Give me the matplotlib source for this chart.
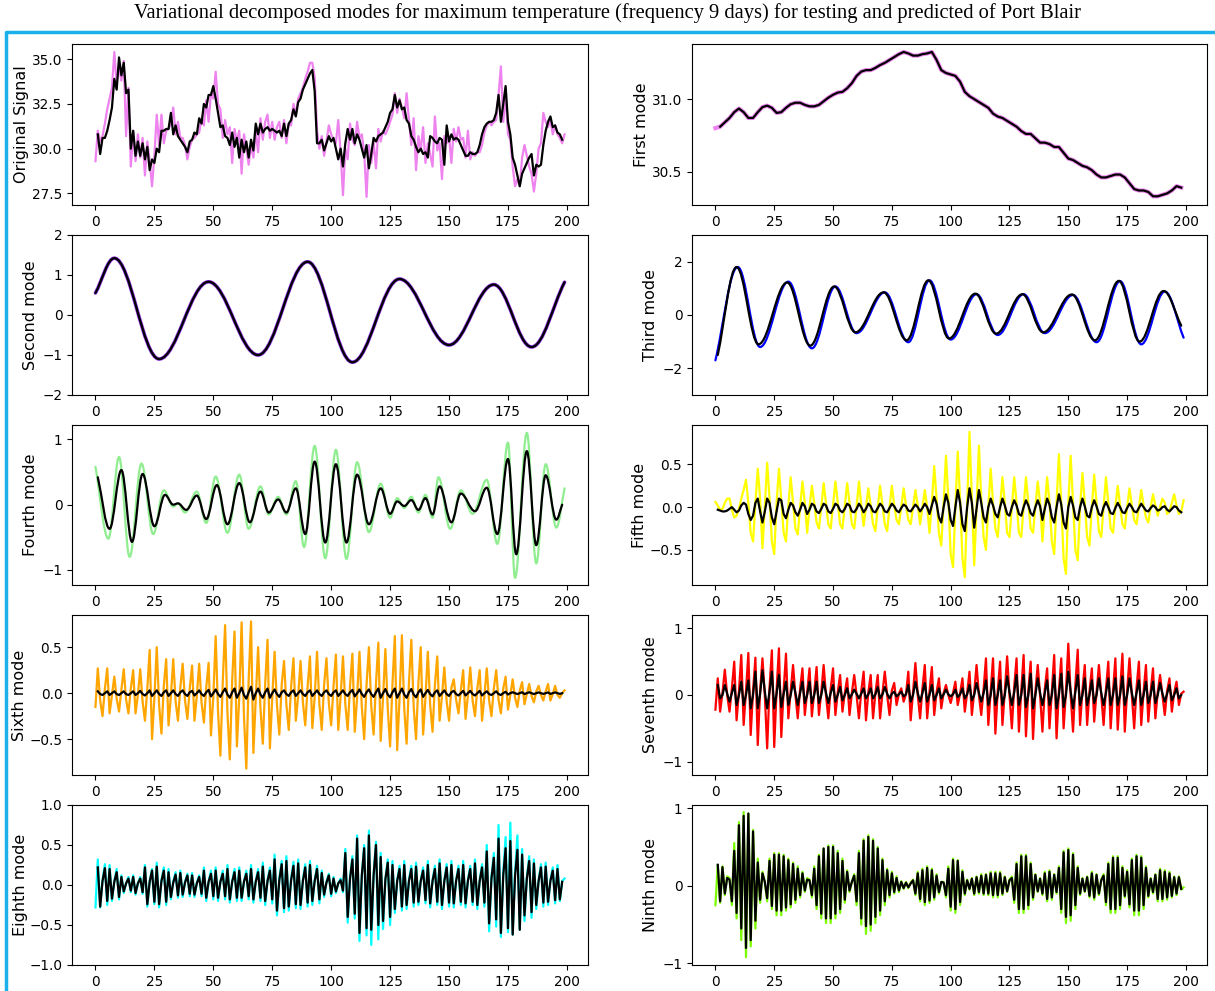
import matplotlib
matplotlib.use("Agg")
import matplotlib.pyplot as plt
import numpy as np
from matplotlib.path import Path
from matplotlib.patches import PathPatch
from matplotlib.lines import Line2D

title = ("Variational decomposed modes for maximum temperature (frequency 9 days) "
         "for testing and predicted of Port Blair")

# original signal, actual (days 0..199) and predicted (days 1..198)
orig_actual = [
    29.3, 31.0, 30.4, 30.7, 31.4, 32.2, 32.8, 33.4, 35.4, 33.6,
    34.6, 33.8, 34.9, 30.7, 33.4, 29.0, 31.0, 29.3, 30.8, 29.5,
    30.6, 28.5, 30.4, 29.3, 27.9, 29.6, 31.9, 30.2, 31.9, 30.3,
    31.0, 31.1, 31.4, 32.3, 30.8, 31.5, 30.6, 30.6, 30.2, 29.4,
    30.1, 30.5, 30.6, 30.8, 30.9, 31.7, 31.3, 32.7, 31.5, 33.1,
    32.8, 34.3, 32.5, 32.2, 30.6, 31.6, 30.8, 31.2, 29.2, 31.1,
    30.4, 31.0, 28.6, 30.8, 30.0, 29.1, 30.2, 29.5, 31.0, 29.8,
    31.7, 30.5, 31.5, 31.9, 30.6, 31.5, 30.5, 31.2, 31.5, 30.6,
    31.6, 30.3, 31.4, 31.3, 32.5, 31.9, 32.8, 33.1, 33.4, 33.9,
    34.3, 34.8, 34.8, 34.0, 31.0, 30.0, 30.7, 29.6, 30.4, 31.3,
    30.8, 30.5, 30.3, 31.6, 29.8, 27.4, 30.0, 29.4, 31.4, 30.5,
    30.2, 31.5, 30.6, 30.8, 29.8, 27.3, 30.2, 29.2, 30.4, 28.9,
    31.1, 30.4, 31.0, 30.8, 31.1, 31.5, 31.9, 33.1, 32.0, 32.8,
    32.3, 31.7, 33.1, 31.6, 30.2, 31.7, 28.8, 30.7, 29.9, 31.2,
    29.2, 30.3, 29.7, 29.0, 31.8, 29.9, 30.3, 28.3, 30.7, 30.3,
    30.7, 29.2, 31.1, 30.4, 31.2, 30.5, 30.6, 29.5, 31.0, 29.4,
    29.8, 29.6, 29.8, 29.8, 30.2, 30.9, 31.3, 31.5, 31.3, 31.5,
    31.6, 33.0, 34.6, 31.5, 33.0, 30.8, 30.5, 29.0, 27.9, 28.3,
    27.9, 29.5, 30.2, 29.6, 29.0, 28.6, 27.6, 28.6, 30.0, 30.3,
    32.0, 31.5, 31.2, 31.6, 30.8, 31.3, 30.8, 30.6, 30.3, 30.8]
orig_pred = [
    30.8, 29.7, 30.6, 30.6, 31.0, 31.6, 32.3, 33.9, 33.3, 35.1,
    34.1, 34.8, 33.1, 33.3, 30.0, 31.0, 29.6, 30.4, 29.6, 30.3,
    29.4, 30.1, 28.8, 29.4, 29.2, 30.0, 29.8, 31.0, 31.0, 31.1,
    31.1, 32.0, 30.8, 31.3, 30.7, 30.5, 30.3, 30.1, 29.8, 30.4,
    30.5, 30.9, 30.8, 31.7, 31.4, 32.5, 32.3, 33.0, 33.0, 33.5,
    32.8, 32.0, 31.2, 31.3, 30.7, 30.6, 30.2, 30.9, 30.1, 30.6,
    29.5, 30.5, 29.8, 30.4, 29.5, 30.5, 29.9, 31.4, 30.8, 31.4,
    30.9, 31.1, 31.2, 31.0, 31.1, 31.0, 30.9, 31.0, 30.7, 31.4,
    30.7, 31.4, 31.6, 32.2, 31.8, 32.6, 32.8, 33.3, 33.6, 33.9,
    34.2, 34.4, 33.2, 30.3, 30.3, 30.5, 29.9, 30.3, 30.7, 30.4,
    30.6, 30.0, 29.4, 30.0, 29.0, 30.3, 31.1, 30.5, 31.1, 30.3,
    30.8, 30.5, 30.0, 29.5, 30.2, 28.9, 29.7, 30.6, 30.4, 30.7,
    30.8, 30.9, 31.2, 31.5, 32.0, 32.2, 33.0, 32.3, 32.7, 32.2,
    32.3, 31.6, 31.4, 30.7, 30.5, 30.1, 29.8, 30.0, 29.7, 29.8,
    29.5, 30.7, 30.6, 30.4, 30.3, 30.6, 30.5, 29.1, 31.3, 30.4,
    30.8, 30.5, 30.6, 30.5, 30.2, 29.9, 29.6, 29.6, 29.8, 29.7,
    29.7, 29.8, 30.2, 30.8, 31.2, 31.4, 31.5, 31.5, 31.6, 32.0,
    33.0, 31.5, 32.5, 33.5, 31.5, 30.8, 29.5, 29.1, 28.5, 27.9,
    28.6, 28.9, 29.2, 29.5, 29.7, 28.5, 29.1, 29.0, 29.1, 30.2,
    31.0, 31.5, 31.8, 31.2, 31.3, 30.9, 30.8, 30.5]

# first mode (trend), read every second day
first_days = list(range(0, 200, 2))
first_mode = [
    30.80, 30.81, 30.84, 30.87, 30.91, 30.935, 30.91, 30.87, 30.87, 30.91,
    30.945, 30.955, 30.94, 30.905, 30.91, 30.94, 30.965, 30.975, 30.975, 30.96,
    30.95, 30.95, 30.96, 30.985, 31.01, 31.03, 31.045, 31.05, 31.075, 31.11,
    31.16, 31.19, 31.20, 31.20, 31.215, 31.235, 31.25, 31.27, 31.29, 31.31,
    31.325, 31.315, 31.30, 31.30, 31.31, 31.315, 31.325, 31.27, 31.20, 31.18,
    31.17, 31.16, 31.12, 31.05, 31.02, 31.00, 30.98, 30.96, 30.94, 30.90,
    30.88, 30.87, 30.85, 30.83, 30.81, 30.78, 30.76, 30.76, 30.73, 30.70,
    30.70, 30.69, 30.67, 30.67, 30.63, 30.59, 30.58, 30.56, 30.54, 30.53,
    30.51, 30.48, 30.46, 30.46, 30.47, 30.48, 30.48, 30.46, 30.42, 30.38,
    30.37, 30.37, 30.36, 30.33, 30.33, 30.34, 30.35, 30.37, 30.40, 30.39]

# second mode: turning points (day, value)
second_x = [0, 8, 27, 48, 69, 90, 109, 129, 150, 169, 185, 199]
second_y = [0.55, 1.42, -1.10, 0.83, -1.00, 1.33, -1.18, 0.90, -0.75, 0.76, -0.80, 0.82]

# third mode: turning points, actual and predicted
third_x = [0, 9.5, 19, 31, 41, 51, 60, 72, 82, 91, 100, 111, 120, 131, 140,
           152, 162, 172, 181, 191, 199]
third_y = [-1.70, 1.80, -1.20, 1.25, -1.25, 1.07, -0.68, 0.85, -1.02, 1.30, -0.92,
           0.78, -0.75, 0.78, -0.68, 0.75, -1.02, 1.27, -1.10, 0.88, -0.85]
third_px = [1, 9, 18.3, 30.5, 40.3, 50.5, 59.5, 71.5, 81.3, 90.5, 99.3, 110.5,
            119.3, 130.5, 139.3, 151.5, 161.3, 171.5, 180.3, 190.5, 198]
third_py = [-1.50, 1.80, -1.10, 1.22, -1.15, 1.07, -0.65, 0.85, -0.95, 1.30, -0.88,
            0.80, -0.70, 0.78, -0.65, 0.77, -0.95, 1.28, -1.00, 0.90, -0.40]

# fourth mode: turning points, actual and predicted
fourth_x = [0, 5.5, 10, 14.5, 19.5, 24.5, 29, 33, 35, 38, 43, 47, 51, 56, 61, 65,
            70, 73.5, 77.5, 81, 85, 88.5, 93, 97.5, 102, 106.5, 111, 116, 121, 125,
            128, 131, 134, 137, 140, 143, 145.5, 150.5, 155, 160, 166, 170.5, 175,
            178, 183, 187, 191, 195.5, 199]
fourth_y = [0.58, -0.52, 0.73, -0.80, 0.63, -0.45, 0.22, -0.03, 0.02, -0.12, 0.20,
            -0.28, 0.43, -0.43, 0.46, -0.37, 0.28, -0.15, 0.12, -0.15, 0.36, -0.65,
            0.90, -0.82, 0.84, -0.83, 0.65, -0.42, 0.32, -0.20, 0.10, -0.05, 0.12,
            -0.12, 0.15, -0.20, 0.42, -0.37, 0.22, -0.14, 0.38, -0.60, 0.95, -1.12,
            1.10, -0.90, 0.62, -0.35, 0.25]
fourth_px = [1, 6, 11, 15.5, 20, 25, 29.5, 33, 35, 38.5, 43, 47, 51.5, 56, 61,
             65.5, 70, 73.5, 77.5, 81, 85, 89, 93, 97.5, 102, 106.5, 111, 116, 121,
             125, 128, 131, 134, 137, 140, 143, 146, 151, 155, 161, 166, 170.5, 175,
             178.5, 183, 187, 191, 195.5, 198]
fourth_py = [0.42, -0.37, 0.53, -0.57, 0.47, -0.33, 0.15, 0.00, 0.02, -0.08, 0.14,
             -0.22, 0.30, -0.30, 0.33, -0.27, 0.20, -0.12, 0.08, -0.12, 0.25, -0.45,
             0.66, -0.58, 0.62, -0.58, 0.46, -0.30, 0.25, -0.14, 0.05, -0.02, 0.07,
             -0.08, 0.10, -0.15, 0.28, -0.27, 0.17, -0.10, 0.26, -0.45, 0.70, -0.76,
             0.82, -0.62, 0.45, -0.23, 0.00]

fifth_actual = [
    0.06, 0.02, -0.03, -0.02, 0.05, 0.10, 0.10, -0.03, -0.12, -0.10,
    -0.02, 0.10, 0.20, 0.32, 0.05, -0.30, -0.40, 0.05, 0.45, 0.10,
    -0.48, 0.00, 0.52, 0.10, -0.40, -0.55, 0.05, 0.45, 0.08, -0.30,
    -0.40, 0.02, 0.35, 0.05, -0.25, -0.32, 0.00, 0.30, 0.05, -0.30,
    0.00, 0.25, 0.05, -0.18, -0.25, 0.00, 0.28, 0.05, -0.20, -0.25,
    0.02, 0.30, 0.05, -0.20, -0.25, 0.02, 0.28, 0.05, -0.20, -0.25,
    0.00, 0.30, 0.02, -0.22, 0.00, 0.22, 0.02, -0.20, -0.28, 0.00,
    0.25, 0.03, -0.20, -0.28, 0.00, 0.25, 0.02, -0.15, -0.20, 0.00,
    0.22, 0.02, -0.15, -0.20, 0.00, 0.20, 0.02, -0.20, 0.00, 0.20,
    0.00, -0.30, 0.05, 0.48, 0.10, -0.30, -0.45, 0.05, 0.60, 0.10,
    -0.55, -0.70, 0.00, 0.65, 0.10, -0.60, -0.82, 0.05, 0.88, 0.10,
    -0.68, 0.00, 0.72, 0.10, -0.35, -0.50, 0.00, 0.45, 0.05, -0.25,
    -0.35, 0.00, 0.35, 0.05, -0.30, -0.35, 0.00, 0.35, 0.05, -0.30,
    -0.35, 0.00, 0.35, 0.05, -0.25, -0.30, 0.00, 0.30, 0.05, -0.40,
    0.00, 0.35, 0.05, -0.40, -0.55, 0.05, 0.62, 0.05, -0.60, -0.78,
    0.05, 0.60, 0.05, -0.50, -0.62, 0.00, 0.40, 0.05, -0.35, -0.45,
    0.00, 0.38, 0.05, -0.28, -0.35, 0.00, 0.35, 0.05, -0.25, -0.30,
    0.00, 0.25, 0.02, -0.20, -0.25, 0.00, 0.22, 0.02, -0.15, -0.20,
    0.00, 0.20, 0.02, -0.12, -0.18, 0.00, 0.15, 0.02, -0.10, 0.00,
    0.10, 0.05, -0.08, -0.05, 0.05, 0.15, 0.02, -0.08, -0.05, 0.08]
fifth_pred = [
    -0.03, -0.04, -0.05, -0.05, -0.04, -0.02, 0.00, -0.03, -0.06, -0.04,
    0.02, 0.05, 0.03, -0.08, -0.15, -0.10, 0.05, 0.10, -0.05, -0.18,
    -0.05, 0.10, 0.05, -0.12, -0.20, -0.05, 0.10, 0.08, -0.08, -0.13,
    -0.03, 0.05, 0.02, -0.06, -0.10, -0.03, 0.05, 0.01, -0.08, -0.03,
    0.04, 0.02, -0.05, -0.07, -0.02, 0.04, 0.02, -0.05, -0.07, -0.02,
    0.04, 0.02, -0.04, -0.06, -0.02, 0.04, 0.02, -0.05, -0.06, -0.02,
    0.04, 0.00, -0.06, -0.02, 0.04, 0.01, -0.05, -0.06, -0.01, 0.04,
    0.01, -0.05, -0.06, -0.01, 0.04, 0.01, -0.04, -0.06, -0.01, 0.03,
    0.01, -0.04, -0.05, -0.01, 0.03, 0.00, -0.05, -0.01, 0.04, 0.00,
    -0.08, 0.02, 0.12, 0.04, -0.12, -0.18, 0.00, 0.15, 0.05, -0.15,
    -0.22, 0.00, 0.20, 0.05, -0.20, -0.28, 0.00, 0.22, 0.05, -0.24,
    -0.02, 0.20, 0.05, -0.12, -0.18, 0.00, 0.10, 0.02, -0.08, -0.12,
    0.00, 0.10, 0.02, -0.08, -0.10, 0.00, 0.08, 0.02, -0.08, -0.10,
    0.00, 0.08, 0.02, -0.07, -0.10, 0.00, 0.08, 0.01, -0.15, -0.02,
    0.10, 0.03, -0.12, -0.18, 0.00, 0.15, 0.03, -0.18, -0.25, 0.00,
    0.12, 0.02, -0.12, -0.15, 0.00, 0.10, 0.01, -0.10, -0.12, 0.00,
    0.08, 0.01, -0.08, -0.10, 0.00, 0.06, 0.00, -0.07, -0.08, -0.01,
    0.05, 0.00, -0.06, -0.07, -0.01, 0.04, 0.00, -0.05, -0.06, -0.01,
    0.04, 0.00, -0.04, -0.05, -0.01, 0.02, 0.00, -0.04, -0.03, 0.00,
    0.01, -0.03, -0.05, -0.02, 0.01, 0.00, -0.04, -0.06]

sixth_actual = [
    -0.15, 0.27, -0.08, -0.25, 0.05, 0.27, -0.22, -0.02, 0.18, -0.06,
    -0.20, 0.04, 0.26, -0.07, -0.22, 0.05, 0.25, -0.22, -0.02, 0.26,
    -0.09, -0.30, 0.05, 0.47, -0.50, -0.05, 0.50, -0.13, -0.44, 0.08,
    0.37, -0.35, -0.03, 0.37, -0.09, -0.30, 0.06, 0.32, -0.08, -0.28,
    0.05, 0.30, -0.30, -0.03, 0.32, -0.10, -0.32, 0.06, 0.33, -0.46,
    -0.04, 0.62, -0.20, -0.68, 0.12, 0.74, -0.22, -0.72, 0.14, 0.67,
    -0.58, -0.05, 0.77, -0.25, -0.82, 0.15, 0.78, -0.65, -0.06, 0.50,
    -0.16, -0.55, 0.10, 0.58, -0.60, -0.05, 0.45, -0.13, -0.45, 0.09,
    0.35, -0.12, -0.40, 0.07, 0.38, -0.30, -0.03, 0.35, -0.10, -0.35,
    0.07, 0.40, -0.38, -0.04, 0.45, -0.12, -0.40, 0.09, 0.38, -0.11,
    -0.35, 0.08, 0.42, -0.40, -0.04, 0.40, -0.12, -0.40, 0.08, 0.43,
    -0.42, -0.04, 0.45, -0.15, -0.50, 0.09, 0.50, -0.14, -0.45, 0.10,
    0.55, -0.52, -0.05, 0.48, -0.17, -0.58, 0.10, 0.62, -0.62, -0.06,
    0.63, -0.17, -0.55, 0.12, 0.58, -0.15, -0.50, 0.11, 0.50, -0.45,
    -0.05, 0.45, -0.13, -0.42, 0.09, 0.40, -0.30, -0.03, 0.28, -0.09,
    -0.30, 0.06, 0.15, -0.07, -0.22, 0.03, 0.25, -0.28, -0.03, 0.28,
    -0.08, -0.25, 0.05, 0.25, -0.30, -0.03, 0.27, -0.08, -0.25, 0.05,
    0.25, -0.07, -0.22, 0.05, 0.18, -0.18, -0.02, 0.15, -0.05, -0.15,
    0.03, 0.12, -0.12, -0.01, 0.10, -0.03, -0.10, 0.02, 0.08, -0.02,
    -0.08, 0.02, 0.10, -0.08, -0.01, 0.08, -0.02, -0.05, 0.00, 0.03]
sixth_pred = [
    0.02, -0.01, -0.02, 0.00, 0.02, -0.02, 0.00, 0.02, -0.01, -0.02,
    0.00, 0.02, -0.01, -0.02, 0.00, 0.02, -0.02, 0.00, 0.025, -0.01,
    -0.025, 0.00, 0.03, -0.03, 0.00, 0.03, -0.01, -0.03, 0.01, 0.03,
    -0.03, 0.00, 0.03, -0.01, -0.03, 0.01, 0.03, -0.01, -0.03, 0.01,
    0.025, -0.025, 0.00, 0.03, -0.01, -0.03, 0.01, 0.035, -0.035, 0.00,
    0.04, -0.01, -0.04, 0.01, 0.05, -0.015, -0.05, 0.01, 0.05, -0.05,
    0.00, 0.06, -0.02, -0.06, 0.01, 0.07, -0.07, 0.00, 0.05, -0.015,
    -0.05, 0.01, 0.05, -0.05, 0.00, 0.04, -0.01, -0.04, 0.01, 0.03,
    -0.01, -0.03, 0.01, 0.03, -0.03, 0.00, 0.03, -0.01, -0.03, 0.01,
    0.03, -0.03, 0.00, 0.03, -0.01, -0.03, 0.01, 0.03, -0.01, -0.03,
    0.01, 0.03, -0.03, 0.00, 0.03, -0.01, -0.03, 0.01, 0.035, -0.035,
    0.00, 0.04, -0.01, -0.04, 0.01, 0.04, -0.01, -0.04, 0.01, 0.05,
    -0.05, 0.00, 0.045, -0.015, -0.045, 0.01, 0.05, -0.05, 0.00, 0.05,
    -0.015, -0.05, 0.01, 0.045, -0.015, -0.045, 0.01, 0.04, -0.04, 0.00,
    0.035, -0.01, -0.035, 0.01, 0.03, -0.03, 0.00, 0.03, -0.01, -0.03,
    0.01, 0.025, -0.01, -0.025, 0.00, 0.025, -0.025, 0.00, 0.025, -0.01,
    -0.025, 0.00, 0.025, -0.025, 0.00, 0.02, -0.01, -0.02, 0.00, 0.02,
    -0.01, -0.02, 0.00, 0.015, -0.015, 0.00, 0.01, 0.00, -0.01, 0.00,
    0.01, -0.01, 0.00, 0.01, 0.00, -0.01, 0.00, 0.008, 0.00, -0.008,
    0.00, 0.008, -0.008, 0.00, 0.008, 0.00, -0.008, 0.00]

seventh_actual = [
    -0.22, 0.25, -0.25, 0.03, 0.38, 0.00, -0.25, 0.10, 0.50, -0.38,
    0.05, 0.60, -0.45, 0.06, 0.63, -0.60, 0.06, 0.56, -0.75, 0.06,
    0.55, 0.00, -0.80, 0.11, 0.67, -0.78, 0.07, 0.70, -0.63, 0.07,
    0.62, -0.35, 0.06, 0.45, 0.00, -0.35, 0.09, 0.40, -0.30, 0.04,
    0.40, -0.32, 0.04, 0.42, -0.30, 0.04, 0.45, 0.00, -0.35, 0.09,
    0.40, -0.30, 0.04, 0.30, -0.25, 0.03, 0.25, -0.30, 0.03, 0.30,
    0.00, -0.35, 0.06, 0.35, -0.38, 0.04, 0.30, -0.35, 0.03, 0.30,
    -0.35, 0.03, 0.35, 0.00, -0.30, 0.07, 0.18, -0.15, 0.02, 0.10,
    -0.10, 0.01, 0.35, -0.38, 0.04, 0.48, 0.00, -0.35, 0.10, 0.45,
    -0.35, 0.05, 0.42, -0.30, 0.04, 0.25, -0.20, 0.03, 0.15, 0.00,
    -0.12, 0.03, 0.20, -0.15, 0.02, 0.25, -0.25, 0.03, 0.35, -0.30,
    0.04, 0.45, 0.00, -0.30, 0.09, 0.55, -0.45, 0.06, 0.55, -0.58,
    0.06, 0.50, -0.45, 0.05, 0.58, 0.00, -0.50, 0.12, 0.55, -0.55,
    0.06, 0.60, -0.62, 0.06, 0.50, -0.66, 0.05, 0.45, 0.00, -0.55,
    0.09, 0.40, -0.50, 0.04, 0.60, -0.65, 0.06, 0.55, -0.50, 0.06,
    0.77, 0.00, -0.55, 0.15, 0.68, -0.45, 0.07, 0.45, -0.45, 0.05,
    0.40, -0.40, 0.04, 0.45, 0.00, -0.45, 0.09, 0.50, -0.50, 0.05,
    0.55, -0.52, 0.06, 0.62, -0.55, 0.06, 0.55, 0.00, -0.50, 0.11,
    0.50, -0.45, 0.05, 0.45, -0.40, 0.05, 0.40, -0.35, 0.04, 0.30,
    0.00, -0.30, 0.06, 0.25, -0.25, 0.03, 0.20, -0.15, 0.02, 0.05]
seventh_pred = [
    0.15, -0.05, 0.00, 0.15, 0.02, -0.10, 0.03, 0.15, -0.15, 0.00,
    0.20, -0.15, 0.00, 0.22, -0.20, 0.00, 0.35, -0.20, 0.02, 0.37,
    0.05, -0.20, 0.05, 0.35, -0.20, 0.02, 0.30, -0.18, 0.02, 0.20,
    -0.15, 0.00, 0.20, 0.03, -0.15, 0.03, 0.20, -0.12, 0.00, 0.20,
    -0.12, 0.00, 0.20, -0.12, 0.00, 0.20, 0.03, -0.12, 0.03, 0.15,
    -0.10, 0.00, 0.12, -0.08, 0.00, 0.10, -0.05, 0.01, 0.08, 0.02,
    -0.05, 0.02, 0.10, -0.05, 0.01, 0.10, -0.05, 0.01, 0.12, -0.05,
    0.01, 0.12, 0.02, -0.05, 0.02, 0.05, -0.02, 0.01, 0.05, -0.02,
    0.01, 0.15, -0.10, 0.00, 0.20, 0.03, -0.10, 0.03, 0.18, -0.10,
    0.00, 0.15, -0.08, 0.00, 0.10, -0.05, 0.01, 0.08, 0.01, -0.02,
    0.01, 0.08, -0.03, 0.01, 0.10, -0.05, 0.01, 0.15, -0.08, 0.00,
    0.18, 0.03, -0.10, 0.03, 0.22, -0.15, 0.00, 0.25, -0.15, 0.00,
    0.22, -0.15, 0.00, 0.28, 0.04, -0.15, 0.04, 0.30, -0.15, 0.00,
    0.30, -0.18, 0.00, 0.32, -0.20, 0.00, 0.25, 0.03, -0.15, 0.03,
    0.22, -0.15, 0.00, 0.30, -0.20, 0.00, 0.32, -0.18, 0.00, 0.35,
    0.05, -0.20, 0.05, 0.30, -0.15, 0.00, 0.25, -0.15, 0.00, 0.22,
    -0.12, 0.00, 0.25, 0.03, -0.15, 0.03, 0.25, -0.15, 0.00, 0.25,
    -0.15, 0.00, 0.28, -0.15, 0.00, 0.25, 0.03, -0.15, 0.03, 0.22,
    -0.15, 0.00, 0.20, -0.12, 0.00, 0.20, -0.12, 0.00, 0.18, 0.02,
    -0.10, 0.02, 0.15, -0.08, 0.00, 0.10, -0.05, 0.00]

eighth_actual = [
    -0.28,
    0.32, -0.28, 0.06, 0.26, -0.25, 0.25, -0.20, 0.05, 0.20, -0.18,
    0.12, -0.10, 0.02, 0.10, -0.09, 0.12, -0.12, 0.02, 0.10, -0.11,
    0.25, -0.27, 0.05, 0.20, -0.24, 0.28, -0.28, 0.06, 0.22, -0.25,
    0.20, -0.18, 0.04, 0.16, -0.16, 0.18, -0.15, 0.04, 0.14, -0.14,
    0.15, -0.15, 0.03, 0.12, -0.14, 0.22, -0.20, 0.04, 0.18, -0.18,
    0.22, -0.20, 0.04, 0.18, -0.18, 0.25, -0.22, 0.05, 0.20, -0.20,
    0.22, -0.20, 0.04, 0.18, -0.18, 0.25, -0.22, 0.05, 0.20, -0.20,
    0.28, -0.25, 0.06, 0.22, -0.23, 0.38, -0.38, 0.08, 0.30, -0.34,
    0.36, -0.32, 0.07, 0.29, -0.29, 0.32, -0.30, 0.06, 0.26, -0.27,
    0.30, -0.25, 0.06, 0.24, -0.23, 0.18, -0.15, 0.04, 0.14, -0.14,
    0.10, -0.10, 0.02, 0.08, -0.09, 0.45, -0.47, 0.09, 0.36, -0.42,
    0.62, -0.70, 0.12, 0.50, -0.63, 0.68, -0.75, 0.14, 0.54, -0.68,
    0.40, -0.55, 0.08, 0.32, -0.50, 0.30, -0.35, 0.06, 0.24, -0.32,
    0.30, -0.30, 0.06, 0.24, -0.27, 0.28, -0.25, 0.06, 0.22, -0.23,
    0.30, -0.28, 0.06, 0.24, -0.25, 0.32, -0.30, 0.06, 0.26, -0.27,
    0.30, -0.28, 0.06, 0.24, -0.25, 0.30, -0.28, 0.06, 0.24, -0.25,
    0.32, -0.30, 0.06, 0.26, -0.27, 0.50, -0.58, 0.10, 0.40, -0.52,
    0.75, -0.65, 0.15, 0.60, -0.59, 0.78, -0.62, 0.16, 0.62, -0.56,
    0.45, -0.45, 0.09, 0.36, -0.41, 0.32, -0.30, 0.06, 0.26, -0.27,
    0.28, -0.25, 0.06, 0.22, -0.23, 0.25, -0.20, 0.05, 0.08]
eighth_pred = [
    0.22, -0.27, 0.05, 0.21, -0.20, 0.20, -0.17, 0.04, 0.16, -0.15,
    0.10, -0.08, 0.02, 0.08, -0.07, 0.10, -0.10, 0.02, 0.08, -0.09,
    0.22, -0.24, 0.04, 0.18, -0.21, 0.23, -0.24, 0.05, 0.18, -0.21,
    0.16, -0.15, 0.03, 0.13, -0.13, 0.15, -0.12, 0.03, 0.12, -0.11,
    0.12, -0.12, 0.02, 0.10, -0.11, 0.18, -0.16, 0.04, 0.14, -0.14,
    0.18, -0.16, 0.04, 0.14, -0.14, 0.20, -0.18, 0.04, 0.16, -0.16,
    0.18, -0.16, 0.04, 0.14, -0.14, 0.20, -0.18, 0.04, 0.16, -0.16,
    0.23, -0.20, 0.05, 0.18, -0.18, 0.32, -0.32, 0.06, 0.26, -0.29,
    0.30, -0.27, 0.06, 0.24, -0.24, 0.27, -0.25, 0.05, 0.22, -0.22,
    0.25, -0.20, 0.05, 0.20, -0.18, 0.15, -0.12, 0.03, 0.12, -0.11,
    0.08, -0.08, 0.02, 0.06, -0.07, 0.40, -0.40, 0.08, 0.32, -0.36,
    0.58, -0.60, 0.12, 0.46, -0.54, 0.62, -0.56, 0.12, 0.50, -0.50,
    0.35, -0.45, 0.07, 0.28, -0.40, 0.25, -0.30, 0.05, 0.20, -0.27,
    0.25, -0.25, 0.05, 0.20, -0.22, 0.23, -0.21, 0.05, 0.18, -0.19,
    0.25, -0.23, 0.05, 0.20, -0.21, 0.27, -0.25, 0.05, 0.22, -0.22,
    0.25, -0.23, 0.05, 0.20, -0.21, 0.25, -0.23, 0.05, 0.20, -0.21,
    0.27, -0.25, 0.05, 0.22, -0.22, 0.42, -0.48, 0.08, 0.34, -0.43,
    0.58, -0.60, 0.12, 0.46, -0.54, 0.55, -0.62, 0.11, 0.44, -0.56,
    0.38, -0.38, 0.08, 0.30, -0.34, 0.27, -0.25, 0.05, 0.22, -0.22,
    0.23, -0.21, 0.05, 0.18, -0.19, 0.20, -0.18, 0.04]

ninth_actual = [
    -0.25, 0.27, -0.22, 0.25, -0.12, 0.12, 0.10, -0.25, 0.55, -0.42,
    0.82, -0.70, 0.95, -0.92, 0.93, -0.78, 0.72, -0.55, 0.35, -0.22,
    0.18, 0.05, -0.20, 0.35, -0.30, 0.42, -0.38, 0.42, -0.38, 0.40,
    -0.32, 0.35, -0.28, 0.30, -0.22, 0.25, -0.15, 0.18, -0.08, 0.10,
    0.08, -0.15, 0.25, -0.30, 0.40, -0.42, 0.48, -0.48, 0.52, -0.48,
    0.52, -0.42, 0.45, -0.35, 0.35, -0.22, 0.20, -0.08, 0.05, 0.15,
    -0.25, 0.45, -0.50, 0.60, -0.62, 0.65, -0.58, 0.60, -0.48, 0.50,
    -0.38, 0.35, -0.25, 0.22, -0.15, 0.18, -0.10, 0.12, -0.08, 0.06,
    -0.04, 0.05, -0.03, 0.04, 0.08, -0.12, 0.18, -0.20, 0.22, -0.25,
    0.25, -0.22, 0.22, -0.18, 0.15, -0.10, 0.05, 0.05, -0.15, 0.25,
    -0.32, 0.35, -0.35, 0.33, -0.25, 0.20, -0.12, 0.08, -0.05, 0.10,
    -0.12, 0.12, -0.10, 0.15, -0.12, 0.15, -0.12, 0.18, -0.15, 0.18,
    -0.15, 0.18, -0.12, 0.12, -0.08, 0.08, 0.12, -0.22, 0.30, -0.35,
    0.40, -0.35, 0.40, -0.30, 0.30, -0.18, 0.15, -0.08, 0.10, -0.12,
    0.18, -0.20, 0.20, -0.18, 0.15, -0.10, 0.25, -0.35, 0.45, -0.48,
    0.48, -0.45, 0.42, -0.30, 0.25, -0.12, 0.10, -0.08, 0.12, -0.15,
    0.18, -0.18, 0.15, -0.12, 0.08, 0.15, -0.25, 0.30, -0.35, 0.38,
    -0.35, 0.38, -0.30, 0.25, -0.15, 0.20, -0.28, 0.35, -0.38, 0.40,
    -0.38, 0.38, -0.30, 0.25, -0.15, 0.10, -0.10, 0.15, -0.20, 0.22,
    -0.20, 0.20, -0.18, 0.18, -0.15, 0.12, -0.12, 0.12, -0.05, -0.02]
ninth_pred = [
    0.27, -0.20, 0.24, -0.10, 0.10, 0.08, -0.20, 0.45, -0.35, 0.78,
    -0.55, 0.90, -0.80, 0.93, -0.70, 0.70, -0.45, 0.30, -0.18, 0.16,
    0.05, -0.16, 0.32, -0.26, 0.40, -0.32, 0.40, -0.32, 0.38, -0.28,
    0.33, -0.24, 0.28, -0.18, 0.22, -0.12, 0.16, -0.06, 0.08, 0.07,
    -0.12, 0.22, -0.25, 0.38, -0.36, 0.48, -0.42, 0.50, -0.42, 0.50,
    -0.36, 0.42, -0.30, 0.32, -0.18, 0.18, -0.06, 0.05, 0.13, -0.20,
    0.42, -0.42, 0.58, -0.52, 0.63, -0.50, 0.58, -0.40, 0.48, -0.32,
    0.33, -0.20, 0.20, -0.12, 0.16, -0.08, 0.10, -0.06, 0.05, -0.03,
    0.04, -0.02, 0.03, 0.07, -0.10, 0.16, -0.17, 0.20, -0.21, 0.23,
    -0.19, 0.20, -0.15, 0.13, -0.08, 0.05, 0.04, -0.12, 0.22, -0.27,
    0.33, -0.30, 0.32, -0.21, 0.18, -0.10, 0.07, -0.04, 0.09, -0.10,
    0.11, -0.08, 0.13, -0.10, 0.14, -0.10, 0.16, -0.12, 0.16, -0.12,
    0.16, -0.10, 0.11, -0.07, 0.07, 0.10, -0.18, 0.28, -0.30, 0.38,
    -0.30, 0.38, -0.25, 0.28, -0.15, 0.14, -0.07, 0.09, -0.10, 0.16,
    -0.17, 0.18, -0.15, 0.14, -0.08, 0.23, -0.30, 0.43, -0.40, 0.46,
    -0.38, 0.40, -0.25, 0.23, -0.10, 0.09, -0.07, 0.11, -0.13, 0.16,
    -0.15, 0.14, -0.10, 0.07, 0.13, -0.21, 0.28, -0.30, 0.36, -0.30,
    0.36, -0.25, 0.23, -0.13, 0.18, -0.24, 0.33, -0.32, 0.38, -0.32,
    0.36, -0.25, 0.23, -0.13, 0.09, -0.08, 0.14, -0.17, 0.20, -0.17,
    0.18, -0.15, 0.16, -0.13, 0.11, -0.10, 0.11, -0.04]

xticks = [0, 25, 50, 75, 100, 125, 150, 175, 200]


def smooth_line(ax, xs, ys, color, lw, zorder=2):
    # cubic bezier through the turning points, flat at each peak/trough
    k = 0.364
    n = len(xs)
    verts = [(xs[0], ys[0])]
    codes = [Path.MOVETO]
    for i in range(n - 1):
        x0, y0, x1, y1 = xs[i], ys[i], xs[i + 1], ys[i + 1]
        dx = x1 - x0
        if i == 0:
            c1 = (x0 + k * dx, y0 + k * (y1 - y0))
        else:
            c1 = (x0 + k * dx, y0)
        if i == n - 2:
            c2 = (x1 - k * dx, y1 - k * (y1 - y0))
        else:
            c2 = (x1 - k * dx, y1)
        verts += [c1, c2, (x1, y1)]
        codes += [Path.CURVE4] * 3
    ax.add_patch(PathPatch(Path(verts, codes), fill=False, edgecolor=color,
                           lw=lw, zorder=zorder, capstyle="round", joinstyle="round"))


def daily_lines(ax, actual, pred, color):
    ax.plot(np.arange(len(actual)), actual, color=color, lw=1.6)
    ax.plot(np.arange(1, len(pred) + 1), pred, color="black", lw=1.6)


W, H = 1215, 991
fig = plt.figure(figsize=(W / 100, H / 100), dpi=100)

fig.text(0.5, 1 - 13 / H, title, ha="center", va="center",
         fontfamily="Liberation Serif", fontsize=14.8)
fig.add_artist(Line2D([6 / W, 6 / W, 1.0], [0.0, 1 - 32 / H, 1 - 32 / H],
                      transform=fig.transFigure, color="#1ab0ea", lw=2.5))

cols = [(72, 588), (692, 1207)]
rows = [(44, 205), (235, 395), (425, 585), (615, 775), (805, 965)]


def make_ax(r, c):
    x0, x1 = cols[c]
    t, b = rows[r]
    ax = fig.add_axes([x0 / W, 1 - b / H, (x1 - x0) / W, (b - t) / H])
    ax.set_xlim(-9.95, 208.95)
    ax.set_xticks(xticks)
    ax.tick_params(labelsize=9.8)
    return ax


def label(ax, text, xpos):
    # xpos: centre of the rotated label, in axes fraction
    ax.set_ylabel(text, fontsize=11.5, va="center")
    ax.yaxis.set_label_coords(xpos, 0.5)


ax = make_ax(0, 0)
daily_lines(ax, orig_actual, orig_pred, "violet")
ax.set_ylim(26.85, 35.85)
ax.set_yticks([27.5, 30.0, 32.5, 35.0])
label(ax, "Original Signal", -0.097)

ax = make_ax(0, 1)
ax.plot(first_days, first_mode, color="violet", lw=3.0)
ax.plot(first_days[1:], first_mode[1:], color="black", lw=1.6)
ax.set_ylim(30.27, 31.38)
ax.set_yticks([30.5, 31.0])
label(ax, "First mode", -0.099)

ax = make_ax(1, 0)
smooth_line(ax, second_x, second_y, "blueviolet", 2.6)
smooth_line(ax, second_x, second_y, "black", 1.6, zorder=3)
ax.set_ylim(-2, 2)
ax.set_yticks([-2, -1, 0, 1, 2])
label(ax, "Second mode", -0.080)

ax = make_ax(1, 1)
smooth_line(ax, third_x, third_y, "blue", 1.6)
smooth_line(ax, third_px, third_py, "black", 1.6, zorder=3)
ax.set_ylim(-3, 3)
ax.set_yticks([-2, 0, 2])
label(ax, "Third mode", -0.080)

ax = make_ax(2, 0)
smooth_line(ax, fourth_x, fourth_y, "lightgreen", 1.6)
smooth_line(ax, fourth_px, fourth_py, "black", 1.6, zorder=3)
ax.set_ylim(-1.23, 1.22)
ax.set_yticks([-1, 0, 1])
label(ax, "Fourth mode", -0.080)

ax = make_ax(2, 1)
daily_lines(ax, fifth_actual, fifth_pred, "yellow")
ax.set_ylim(-0.91, 0.96)
ax.set_yticks([-0.5, 0.0, 0.5])
label(ax, "Fifth mode", -0.101)

ax = make_ax(3, 0)
daily_lines(ax, sixth_actual, sixth_pred, "orange")
ax.set_ylim(-0.89, 0.85)
ax.set_yticks([-0.5, 0.0, 0.5])
label(ax, "Sixth mode", -0.101)

ax = make_ax(3, 1)
daily_lines(ax, seventh_actual, seventh_pred, "red")
ax.set_ylim(-1.2, 1.2)
ax.set_yticks([-1, 0, 1])
label(ax, "Seventh mode", -0.080)

ax = make_ax(4, 0)
daily_lines(ax, eighth_actual, eighth_pred, "cyan")
ax.set_ylim(-1.0, 1.0)
ax.set_yticks([-1.0, -0.5, 0.0, 0.5, 1.0])
label(ax, "Eighth mode", -0.099)

ax = make_ax(4, 1)
daily_lines(ax, ninth_actual, ninth_pred, "lawngreen")
ax.set_ylim(-1.02, 1.04)
ax.set_yticks([-1, 0, 1])
label(ax, "Ninth mode", -0.080)

fig.savefig("out.png", dpi=100)
